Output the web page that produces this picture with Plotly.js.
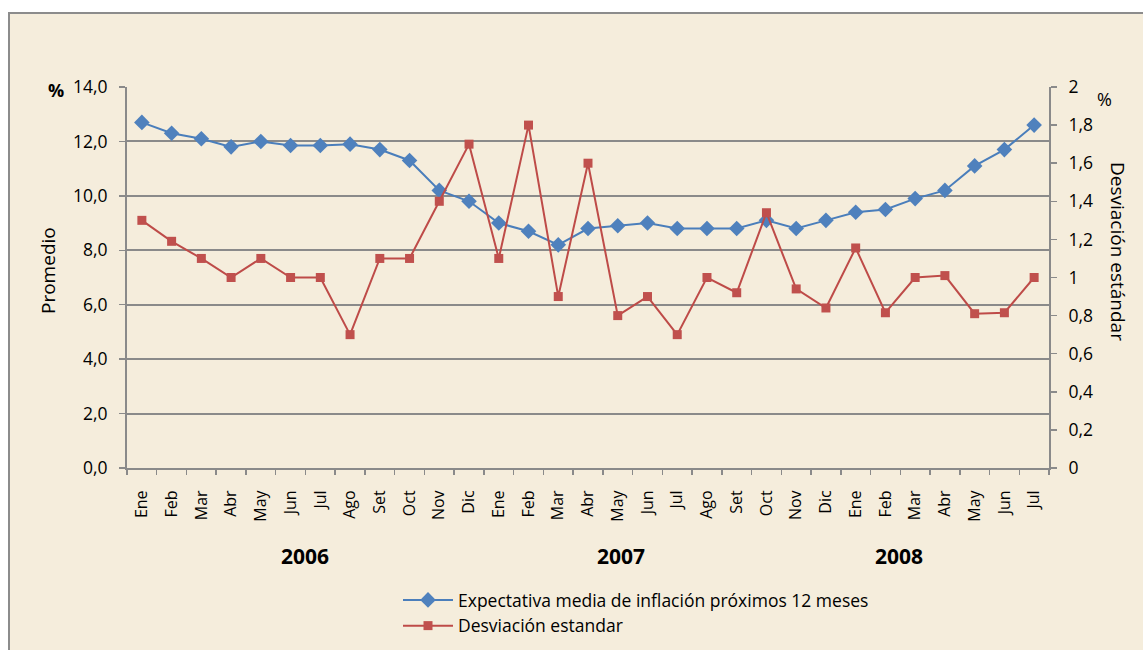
<!DOCTYPE html>
<html>
<head>
<meta charset="utf-8">
<script src="https://cdn.plot.ly/plotly-3.0.1.min.js"></script>
<style>html,body{margin:0;padding:0;background:#fff;}#chart{width:1143px;height:650px;}</style>
</head>
<body>
<div id="chart"></div>
<script>
const months = ["Ene","Feb","Mar","Abr","May","Jun","Jul","Ago","Set","Oct","Nov","Dic",
                "Ene","Feb","Mar","Abr","May","Jun","Jul","Ago","Set","Oct","Nov","Dic",
                "Ene","Feb","Mar","Abr","May","Jun","Jul"];
const years = ["2006","2007","2008"];
const expectativa = [12.7,12.3,12.1,11.8,12.0,11.85,11.85,11.9,11.7,11.3,10.2,9.8,
                     9.0,8.7,8.2,8.8,8.9,9.0,8.8,8.8,8.8,9.1,8.8,9.1,
                     9.4,9.5,9.9,10.2,11.1,11.7,12.6];
const desviacion = [1.3,1.19,1.1,1.0,1.1,1.0,1.0,0.7,1.1,1.1,1.4,1.7,
                    1.1,1.8,0.9,1.6,0.8,0.9,0.7,1.0,0.92,1.34,0.94,0.84,
                    1.155,0.815,1.0,1.01,0.81,0.815,1.0];
const serieNames = ["Expectativa media de inflación próximos 12 meses","Desviación estandar"];
const idx = months.map((m,i)=>i);

const FONT = "'Open Sans', Lato, sans-serif";
const GRAY = "#8a8a8a";

// pixel helpers for the fixed plot area (l=127, r=1049, t=87, b=468)
const PL = 127, PR = 1049, PT = 87, PB = 468;
const px = v => (v - PL) / (PR - PL);
const py = v => (PB - v) / (PB - PT);

const traces = [
  {x: idx, y: expectativa, name: serieNames[0], type: "scatter", mode: "lines+markers",
   line: {color: "#4A7EBB", width: 2}, marker: {symbol: "diamond", size: 12, color: "#4F81BD"},
   yaxis: "y"},
  {x: idx, y: desviacion, name: serieNames[1], type: "scatter", mode: "lines+markers",
   line: {color: "#BE4B48", width: 2}, marker: {symbol: "square", size: 9, color: "#C0504D"},
   yaxis: "y2"}
];

const layout = {
  width: 1143, height: 650,
  margin: {l: PL, r: 1143 - PR, t: PT, b: 650 - PB, autoexpand: false},
  paper_bgcolor: "#ffffff",
  plot_bgcolor: "rgba(0,0,0,0)",
  separators: ",.",
  font: {family: FONT, size: 15, color: "#000"},
  showlegend: true,
  legend: {x: px(398), y: py(582), xanchor: "left", yanchor: "top", orientation: "v",
           bgcolor: "rgba(0,0,0,0)", font: {family: FONT, size: 17.5, color: "#000"},
           tracegroupgap: 0, itemwidth: 50},
  xaxis: {range: [-0.5, 30.5], tickmode: "array", tickvals: idx, ticktext: months,
          tickangle: -90, ticks: "", showgrid: false, zeroline: false, automargin: false,
          ticklabelstandoff: 14,
          showline: true, linecolor: GRAY, linewidth: 2,
          minor: {ticks: "outside", tick0: -0.5, dtick: 1, ticklen: 5, tickcolor: GRAY, tickwidth: 1.5, showgrid: false},
          tickfont: {family: FONT, size: 16}, fixedrange: true},
  yaxis: {range: [0, 14], dtick: 2, tickformat: ".1f", ticks: "outside", ticklen: 6, automargin: false,
          ticklabelstandoff: 8,
          tickcolor: GRAY, tickwidth: 1.5, showline: true, linecolor: GRAY, linewidth: 2,
          showgrid: true, gridcolor: GRAY, gridwidth: 2, zeroline: false,
          tickfont: {family: FONT, size: 17.5}},
  yaxis2: {range: [0, 2], dtick: 0.2, overlaying: "y", side: "right", ticks: "outside", ticklen: 6,
           automargin: false, ticklabelstandoff: 8,
           tickcolor: GRAY, tickwidth: 1.5, showline: true, linecolor: GRAY, linewidth: 2,
           showgrid: false, zeroline: false, tickfont: {family: FONT, size: 17.5}},
  shapes: [
    {type: "rect", xref: "paper", yref: "paper", x0: px(9), x1: px(1160), y0: py(670), y1: py(13),
     fillcolor: "#F5EDDC", line: {color: "#8c8c8c", width: 2}, layer: "below"}
  ],
  annotations: [
    {text: "<b>" + years[0] + "</b>", x: 5.5, xref: "x", yref: "paper", showarrow: false,
     yanchor: "middle", font: {family: FONT, size: 21}},
    {text: "<b>" + years[1] + "</b>", x: 16.1, xref: "x", yref: "paper", showarrow: false,
     yanchor: "middle", font: {family: FONT, size: 21}},
    {text: "<b>" + years[2] + "</b>", x: 25.45, xref: "x", yref: "paper", showarrow: false,
     yanchor: "middle", font: {family: FONT, size: 21}},
    {text: "Promedio", textangle: -90, x: px(33), y: py(271), xref: "paper", yref: "paper",
     yanchor: "middle", showarrow: false, font: {family: FONT, size: 19}},
    {text: "Desviación estándar", textangle: 90, x: px(1133), y: py(251), xref: "paper", yref: "paper",
     yanchor: "middle", showarrow: false, font: {family: FONT, size: 19}},
    {text: "<b>%</b>", x: px(46), y: py(90), xref: "paper", yref: "paper",
     yanchor: "middle", showarrow: false, font: {family: FONT, size: 18}},
    {text: "%", x: px(1114), y: py(99), xref: "paper", yref: "paper",
     yanchor: "middle", showarrow: false, font: {family: FONT, size: 18}}
  ]
};
const yearY = py(556);
layout.annotations[0].y = yearY;
layout.annotations[1].y = yearY;
layout.annotations[2].y = yearY;

Plotly.newPlot("chart", traces, layout, {displayModeBar: false, staticPlot: true});
</script>
</body>
</html>
